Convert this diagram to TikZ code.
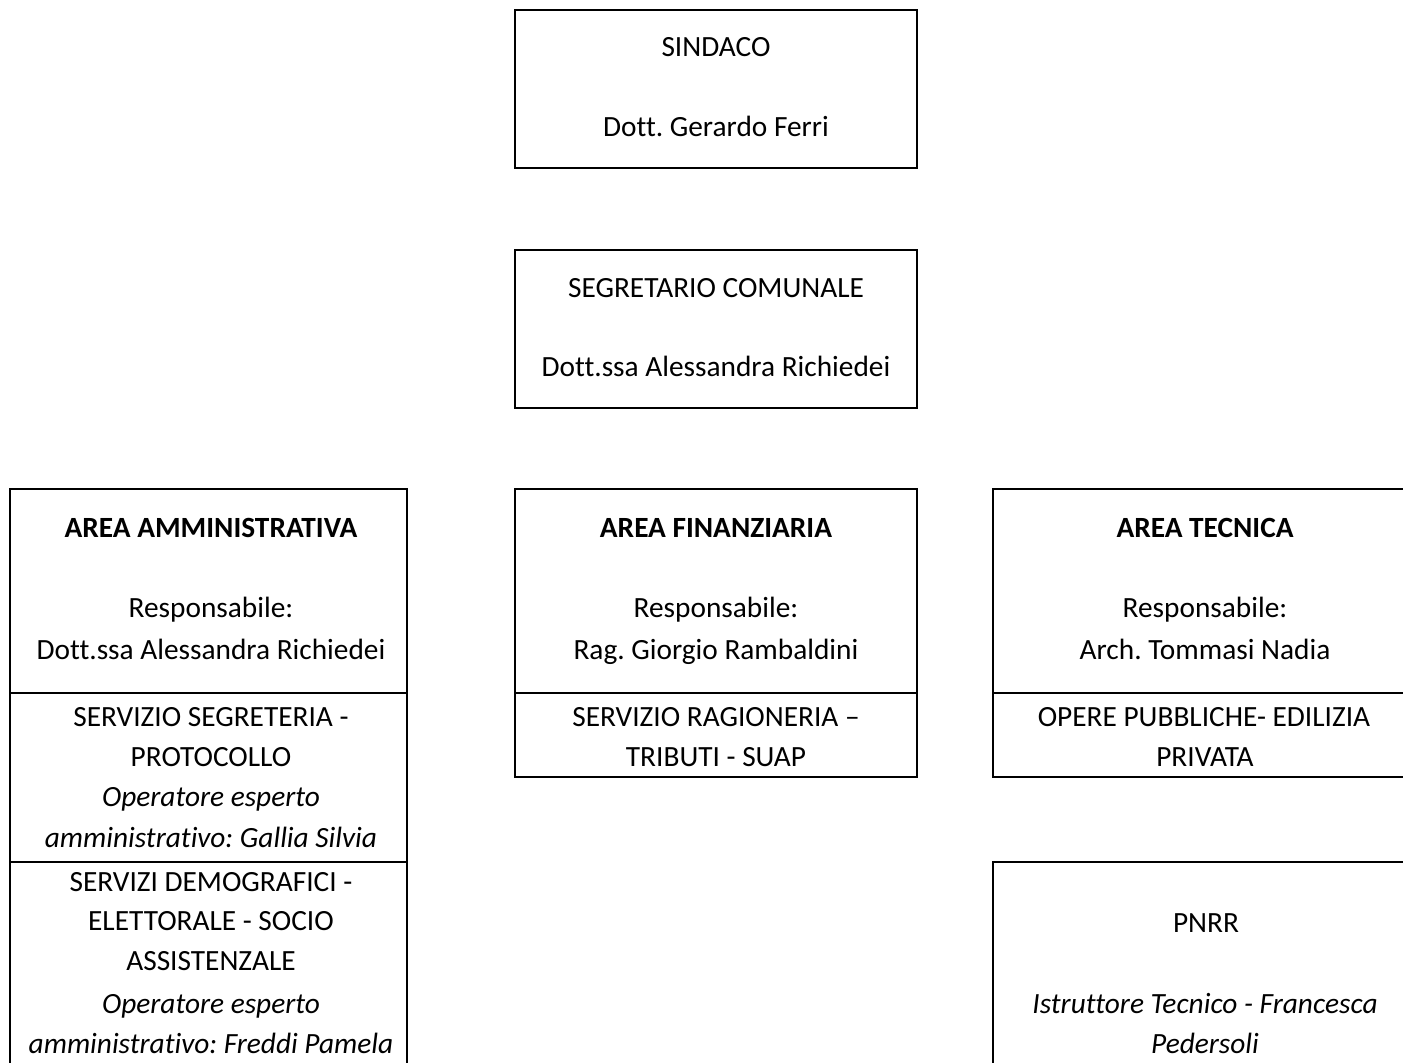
\documentclass[tikz,border=0pt]{standalone}
\usepackage{fontspec}
\setmainfont{Carlito}[Ligatures={NoCommon}]
\usetikzlibrary{fit}
\begin{document}
\frenchspacing
\begin{tikzpicture}[x=0.75pt,y=-0.75pt,
  box/.style={draw,line width=1.5pt,inner sep=0pt},
  txt/.style={anchor=base,inner sep=0pt,font=\fontsize{22}{26}\selectfont},
  hd/.style={anchor=base,inner sep=0pt,font=\fontsize{22}{26}\selectfont\bfseries},
  it/.style={anchor=base,inner sep=0pt,font=\fontsize{22}{26}\selectfont\itshape},
  sep/.style={line width=1.5pt}]
\useasboundingbox (0,0) rectangle (1403,1063);
\begin{scope}
\clip (0,0) rectangle (1403,1063);
% boxes
\node[box,fit={(515,10) (917,168)}] (sindaco) {};
\node[box,fit={(515,250) (917,408)}] (segr) {};
\node[box,fit={(10,489) (407,1090)}] (amm) {};
\node[box,fit={(515,489) (917,777)}] (fin) {};
\node[box,fit={(993,489) (1425,777)}] (tec) {};
\node[box,fit={(993,862) (1425,1090)}] (pnrr) {};
\coordinate (ammd1l) at (10,693); \coordinate (ammd1r) at (407,693);
\coordinate (ammd2l) at (10,862); \coordinate (ammd2r) at (407,862);
\coordinate (find1l) at (515,693); \coordinate (find1r) at (917,693);
\coordinate (tecd1l) at (993,693); \coordinate (tecd1r) at (1425,693);
\draw[sep] (ammd1l) -- (ammd1r);
\draw[sep] (ammd2l) -- (ammd2r);
\draw[sep] (find1l) -- (find1r);
\draw[sep] (tecd1l) -- (tecd1r);
\end{scope}
% texts
\node[txt] (t1) at (716,57) {SINDACO};
\node[txt] (t2) at (716,137) {Dott. Gerardo Ferri};
\node[txt] (t3) at (716,297) {SEGRETARIO COMUNALE};
\node[txt] (t4) at (716,376) {Dott.ssa Alessandra Richiedei};
% left
\node[hd] (a1) at (211,537) {AREA AMMINISTRATIVA};
\node[txt] (a2) at (211,617) {Responsabile:};
\node[txt] (a3) at (211,659) {Dott.ssa Alessandra Richiedei};
\node[txt] (a4) at (211,726) {SERVIZIO SEGRETERIA -};
\node[txt] (a5) at (211,766) {PROTOCOLLO};
\node[it] (a6) at (211,806) {Operatore esperto};
\node[it] (a7) at (211,847) {amministrativo: Gallia Silvia};
\node[txt] (a8) at (211,891) {SERVIZI DEMOGRAFICI -};
\node[txt] (a9) at (211,930) {ELETTORALE - SOCIO};
\node[txt] (a10) at (211,970) {ASSISTENZALE};
\node[it] (a11) at (211,1013) {Operatore esperto};
\node[it] (a12) at (211,1053) {amministrativo: Freddi Pamela};
% middle
\node[hd] (f1) at (716,537) {AREA FINANZIARIA};
\node[txt] (f2) at (716,617) {Responsabile:};
\node[txt] (f3) at (716,659) {Rag. Giorgio Rambaldini};
\node[txt] (f4) at (716,726) {SERVIZIO RAGIONERIA –};
\node[txt] (f5) at (716,766) {TRIBUTI - SUAP};
% right
\node[hd] (r1) at (1205,537) {AREA TECNICA};
\node[txt] (r2) at (1205,617) {Responsabile:};
\node[txt] (r3) at (1205,659) {Arch. Tommasi Nadia};
\node[txt] (r4) at (1204,726) {OPERE PUBBLICHE- EDILIZIA};
\node[txt] (r5) at (1205,766) {PRIVATA};
\node[txt] (p1) at (1206,932) {PNRR};
\node[it] (p2) at (1205,1013) {Istruttore Tecnico - Francesca};
\node[it] (p3) at (1205,1053) {Pedersoli};
\end{tikzpicture}
\end{document}
